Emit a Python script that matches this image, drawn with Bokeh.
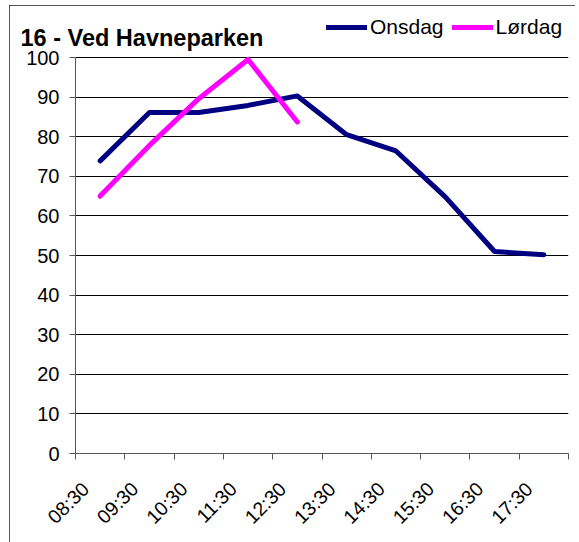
import math
from bokeh.plotting import figure
from bokeh.models import (FixedTicker, Legend, LegendItem, Range1d, ColumnDataSource,
                          LinearAxis, Title)
from bokeh.embed import file_html
from bokeh.resources import INLINE

title_text = "16 - Ved Havneparken"
categories = ["08:30", "09:30", "10:30", "11:30", "12:30",
              "13:30", "14:30", "15:30", "16:30", "17:30"]
onsdag = [73.9, 86.1, 86.1, 87.9, 90.3, 80.5, 76.4, 64.8, 51.0, 50.2]
lordag = [65.0, 77.8, 89.6, 99.5, 83.7]
series_names = ["Onsdag", "Lørdag"]
y_ticks = list(range(0, 101, 10))

FONT = "Liberation Sans"
AXIS_COLOR = "#555555"

# plot area: the value axis 0..100 uses 396 px; the frame reaches 45 px higher
# so that the legend (drawn inside the frame) has room above the 100 line
FRAME_H = 441
AXIS_H = 396
y_top = 100 * FRAME_H / AXIS_H

p = figure(width=566, height=539, output_backend="svg", toolbar_location=None,
           title=None,
           x_range=Range1d(-0.5, len(categories) - 0.5), y_range=Range1d(0, y_top),
           min_border_left=66, min_border_right=7, min_border_top=7,
           min_border_bottom=91)

# outer chart border (drawn by the page element of the figure)
p.styles = {"margin-left": "9px", "margin-top": "5px",
            "outline": "2px solid #222222", "outline-offset": "-2px"}
p.outline_line_color = None
p.background_fill_color = "white"
p.border_fill_color = "white"

src_o = ColumnDataSource(dict(x=list(range(len(onsdag))), y=onsdag))
src_l = ColumnDataSource(dict(x=list(range(len(lordag))), y=lordag))
r1 = p.line("x", "y", source=src_o, line_color="#000080", line_width=5,
            line_join="round", line_cap="round")
r2 = p.line("x", "y", source=src_l, line_color="#FF00FF", line_width=5,
            line_join="round", line_cap="round")

legend = Legend(items=[LegendItem(label=series_names[0], renderers=[r1]),
                       LegendItem(label=series_names[1], renderers=[r2])],
                orientation="horizontal", location=(251, 414),
                glyph_width=41, glyph_height=24, label_height=24,
                label_standoff=3, spacing=8, padding=0, margin=0,
                border_line_color=None, background_fill_alpha=0,
                label_text_font=FONT, label_text_font_size="21px",
                label_text_color="black")
p.add_layout(legend)

title = Title(text=title_text, align="left", offset=-55, standoff=-76,
              vertical_align="bottom",
              text_font=FONT, text_font_size="23.5px", text_font_style="bold",
              text_color="black")
p.add_layout(title, "above")

# x axis: line and boundary ticks
p.xaxis.ticker = FixedTicker(ticks=[],
                             minor_ticks=[i - 0.5 for i in range(len(categories) + 1)])
p.xaxis.major_tick_out = 0
p.xaxis.major_tick_in = 0
p.xaxis.minor_tick_out = 6
p.xaxis.minor_tick_in = 0
p.xaxis.minor_tick_line_color = AXIS_COLOR
p.xaxis.axis_line_color = AXIS_COLOR
p.xaxis.major_label_standoff = 0
p.xgrid.visible = False

# x axis labels (slightly offset like the original)
shift = 0.30
p.extra_x_ranges = {"lab": Range1d(-0.5 + shift, len(categories) - 0.5 + shift)}
lab_axis = LinearAxis(x_range_name="lab",
                      ticker=FixedTicker(ticks=list(range(len(categories)))),
                      major_label_overrides={i: c for i, c in enumerate(categories)},
                      axis_line_color=None, major_tick_line_color=None,
                      minor_tick_line_color=None,
                      major_label_orientation=math.pi / 4,
                      major_label_text_font=FONT,
                      major_label_text_font_size="19.5px",
                      major_label_text_color="black",
                      major_label_standoff=20)
p.add_layout(lab_axis, "below")

# y axis
p.yaxis.ticker = FixedTicker(ticks=y_ticks)
p.yaxis.bounds = (0, 100)
p.yaxis.minor_tick_line_color = None
p.yaxis.major_tick_out = 6
p.yaxis.major_tick_in = 0
p.yaxis.major_tick_line_color = AXIS_COLOR
p.yaxis.axis_line_color = AXIS_COLOR
p.yaxis.major_label_text_font = FONT
p.yaxis.major_label_text_font_size = "20px"
p.yaxis.major_label_text_color = "black"
p.yaxis.major_label_standoff = 10
p.ygrid.ticker = FixedTicker(ticks=y_ticks)
p.ygrid.grid_line_color = "black"
p.ygrid.grid_line_width = 1

open("out.html", "w").write(file_html(p, INLINE))
